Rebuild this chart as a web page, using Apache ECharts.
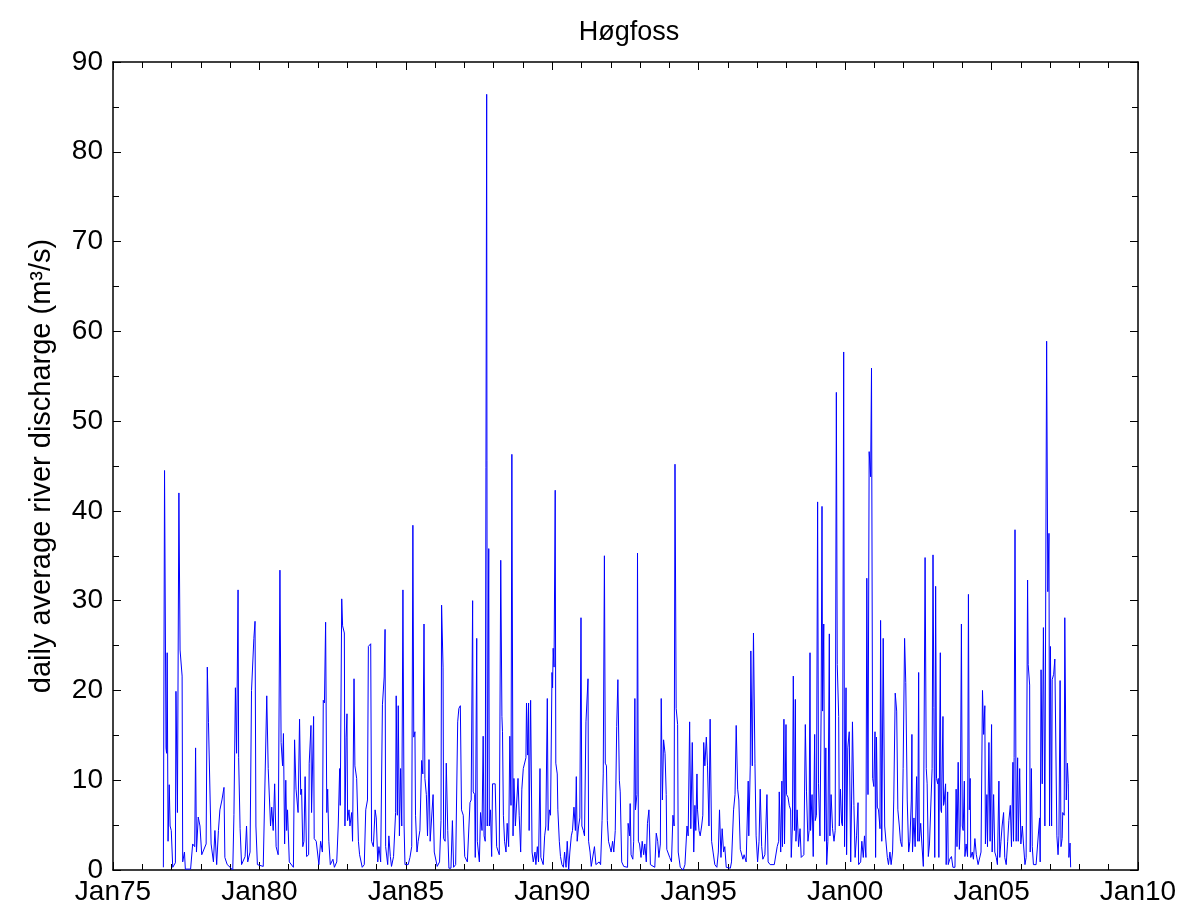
<!DOCTYPE html>
<html>
<head>
<meta charset="utf-8">
<title>Høgfoss</title>
<script src="https://cdn.jsdelivr.net/npm/echarts@6/dist/echarts.min.js"></script>
<style>
html, body { margin: 0; padding: 0; background: #fff; }
#chart { width: 1184px; height: 913px; }
</style>
</head>
<body>
<div id="chart"></div>
<script>
// dates as decimal years, one row per calendar year
let dates = [
  1976.72, 1976.76, 1976.81, 1976.83, 1976.85, 1976.88, 1976.92, 1976.95, 1976.99,
  1977.04, 1977.13, 1977.15, 1977.20, 1977.25, 1977.29, 1977.36, 1977.38, 1977.44, 1977.47, 1977.65, 1977.72, 1977.79, 1977.82, 1977.85, 1977.91, 1977.97,
  1978.03, 1978.08, 1978.18, 1978.22, 1978.26, 1978.32, 1978.35, 1978.43, 1978.48, 1978.54, 1978.60, 1978.65, 1978.72, 1978.79, 1978.82, 1978.90,
  1979.00, 1979.09, 1979.13, 1979.18, 1979.22, 1979.27, 1979.29, 1979.34, 1979.39, 1979.51, 1979.56, 1979.60, 1979.68, 1979.73, 1979.81, 1979.85, 1979.88, 1979.93,
  1980.13, 1980.19, 1980.25, 1980.30, 1980.38, 1980.42, 1980.47, 1980.52, 1980.57, 1980.64, 1980.70, 1980.74, 1980.79, 1980.82, 1980.86, 1980.90, 1980.93, 1980.96,
  1981.02, 1981.16, 1981.20, 1981.25, 1981.32, 1981.37, 1981.41, 1981.44, 1981.48, 1981.52, 1981.56, 1981.61, 1981.68, 1981.70, 1981.76, 1981.78, 1981.85, 1981.87, 1981.94,
  1982.03, 1982.09, 1982.15, 1982.18, 1982.22, 1982.26, 1982.30, 1982.33, 1982.37, 1982.42, 1982.51, 1982.56, 1982.64, 1982.69, 1982.74, 1982.76, 1982.81, 1982.84, 1982.90, 1982.92, 1982.96, 1982.99,
  1983.01, 1983.06, 1983.09, 1983.15, 1983.18, 1983.23, 1983.26, 1983.32, 1983.38, 1983.42, 1983.51, 1983.58, 1983.63, 1983.69, 1983.72, 1983.80, 1983.83, 1983.89, 1983.95, 1983.99,
  1984.04, 1984.08, 1984.14, 1984.20, 1984.26, 1984.29, 1984.31, 1984.38, 1984.42, 1984.47, 1984.51, 1984.58, 1984.65, 1984.67, 1984.71, 1984.74, 1984.78, 1984.82, 1984.86, 1984.90, 1984.94, 1984.97,
  1985.08, 1985.14, 1985.20, 1985.24, 1985.27, 1985.31, 1985.33, 1985.38, 1985.42, 1985.48, 1985.54, 1985.58, 1985.62, 1985.65, 1985.70, 1985.74, 1985.79, 1985.83, 1985.88, 1985.93, 1985.97,
  1986.07, 1986.15, 1986.20, 1986.22, 1986.27, 1986.29, 1986.34, 1986.38, 1986.43, 1986.47, 1986.54, 1986.59, 1986.63, 1986.70, 1986.77, 1986.81, 1986.86, 1986.90, 1986.96,
  1987.01, 1987.10, 1987.14, 1987.19, 1987.23, 1987.28, 1987.30, 1987.35, 1987.37, 1987.42, 1987.44, 1987.51, 1987.55, 1987.60, 1987.64, 1987.67, 1987.71, 1987.76, 1987.78, 1987.83, 1987.85, 1987.89, 1987.93, 1987.96,
  1988.05, 1988.10, 1988.19, 1988.24, 1988.28, 1988.30, 1988.33, 1988.37, 1988.42, 1988.46, 1988.51, 1988.55, 1988.59, 1988.62, 1988.66, 1988.69, 1988.74, 1988.78, 1988.83, 1988.87, 1988.92, 1988.96,
  1989.01, 1989.07, 1989.10, 1989.12, 1989.16, 1989.19, 1989.21, 1989.26, 1989.31, 1989.35, 1989.41, 1989.44, 1989.49, 1989.53, 1989.58, 1989.61, 1989.69, 1989.74, 1989.78, 1989.83, 1989.86, 1989.90, 1989.94, 1989.99,
  1990.01, 1990.03, 1990.06, 1990.10, 1990.12, 1990.17, 1990.19, 1990.24, 1990.28, 1990.33, 1990.38, 1990.42, 1990.47, 1990.51, 1990.56, 1990.60, 1990.65, 1990.69, 1990.74, 1990.79, 1990.82, 1990.85, 1990.90, 1990.94, 1990.98,
  1991.01, 1991.06, 1991.10, 1991.15, 1991.22, 1991.24, 1991.29, 1991.33, 1991.44, 1991.49, 1991.60, 1991.65, 1991.70, 1991.74, 1991.78, 1991.81, 1991.85, 1991.88, 1991.92,
  1992.01, 1992.06, 1992.10, 1992.15, 1992.20, 1992.24, 1992.29, 1992.32, 1992.37, 1992.44, 1992.57, 1992.59, 1992.64, 1992.66, 1992.69, 1992.75, 1992.78, 1992.82, 1992.84, 1992.89, 1992.91, 1992.94, 1992.98,
  1993.03, 1993.07, 1993.12, 1993.16, 1993.21, 1993.25, 1993.30, 1993.35, 1993.50, 1993.55, 1993.60, 1993.64, 1993.69, 1993.72, 1993.76, 1993.80, 1993.85, 1993.89, 1993.91,
  1994.01, 1994.07, 1994.12, 1994.16, 1994.19, 1994.23, 1994.28, 1994.30, 1994.37, 1994.47, 1994.53, 1994.60, 1994.64, 1994.69, 1994.73, 1994.78, 1994.83, 1994.87, 1994.90, 1994.94, 1994.96,
  1995.01, 1995.05, 1995.10, 1995.14, 1995.17, 1995.21, 1995.26, 1995.30, 1995.35, 1995.39, 1995.44, 1995.49, 1995.55, 1995.62, 1995.67, 1995.71, 1995.76, 1995.80, 1995.85, 1995.89, 1995.94,
  1996.08, 1996.12, 1996.19, 1996.24, 1996.28, 1996.33, 1996.37, 1996.42, 1996.51, 1996.55, 1996.62, 1996.69, 1996.71, 1996.76, 1996.78, 1996.83, 1996.87, 1996.92, 1996.96,
  1997.01, 1997.06, 1997.10, 1997.15, 1997.19, 1997.26, 1997.33, 1997.37, 1997.44, 1997.49, 1997.58, 1997.68, 1997.73, 1997.75, 1997.80, 1997.84, 1997.86, 1997.91, 1997.93, 1997.98,
  1998.00, 1998.05, 1998.09, 1998.14, 1998.16, 1998.20, 1998.23, 1998.27, 1998.30, 1998.32, 1998.36, 1998.41, 1998.46, 1998.50, 1998.59, 1998.64, 1998.68, 1998.73, 1998.77, 1998.80, 1998.82, 1998.87, 1998.91, 1998.96, 1998.98,
  1999.02, 1999.06, 1999.09, 1999.14, 1999.18, 1999.21, 1999.23, 1999.27, 1999.30, 1999.34, 1999.37, 1999.41, 1999.46, 1999.48, 1999.52, 1999.57, 1999.62, 1999.66, 1999.70, 1999.73, 1999.78, 1999.80, 1999.84, 1999.88, 1999.91, 1999.95, 1999.98,
  2000.03, 2000.05, 2000.09, 2000.14, 2000.19, 2000.22, 2000.25, 2000.30, 2000.34, 2000.39, 2000.44, 2000.46, 2000.53, 2000.57, 2000.62, 2000.66, 2000.71, 2000.74, 2000.78, 2000.82, 2000.87, 2000.90, 2000.94, 2000.98,
  2001.02, 2001.04, 2001.07, 2001.10, 2001.14, 2001.19, 2001.21, 2001.25, 2001.30, 2001.35, 2001.39, 2001.44, 2001.48, 2001.53, 2001.57, 2001.62, 2001.66, 2001.71, 2001.76, 2001.80, 2001.85, 2001.89, 2001.94, 2001.98,
  2002.03, 2002.07, 2002.12, 2002.17, 2002.21, 2002.26, 2002.28, 2002.30, 2002.35, 2002.39, 2002.44, 2002.48, 2002.51, 2002.53, 2002.58, 2002.62, 2002.67, 2002.73, 2002.77, 2002.80, 2002.84, 2002.88, 2002.93, 2002.97,
  2003.00, 2003.03, 2003.06, 2003.09, 2003.12, 2003.16, 2003.18, 2003.20, 2003.25, 2003.27, 2003.29, 2003.34, 2003.36, 2003.38, 2003.43, 2003.45, 2003.50, 2003.52, 2003.57, 2003.63, 2003.68, 2003.75, 2003.79, 2003.82, 2003.86, 2003.90, 2003.93, 2003.97,
  2004.00, 2004.03, 2004.07, 2004.09, 2004.13, 2004.18, 2004.21, 2004.24, 2004.27, 2004.29, 2004.34, 2004.38, 2004.43, 2004.48, 2004.54, 2004.59, 2004.64, 2004.69, 2004.73, 2004.77, 2004.79, 2004.84, 2004.86, 2004.91, 2004.95,
  2005.00, 2005.02, 2005.07, 2005.11, 2005.16, 2005.20, 2005.25, 2005.28, 2005.32, 2005.36, 2005.41, 2005.45, 2005.50, 2005.55, 2005.59, 2005.64, 2005.68, 2005.73, 2005.75, 2005.77, 2005.80, 2005.84, 2005.89, 2005.91, 2005.96,
  2006.00, 2006.05, 2006.09, 2006.14, 2006.18, 2006.23, 2006.25, 2006.30, 2006.32, 2006.36, 2006.39, 2006.43, 2006.52, 2006.57, 2006.64, 2006.66, 2006.69, 2006.73, 2006.77, 2006.82, 2006.88, 2006.92, 2006.96, 2006.98,
  2007.01, 2007.05, 2007.07, 2007.12, 2007.16, 2007.18, 2007.23, 2007.27, 2007.30, 2007.34, 2007.37, 2007.41, 2007.43, 2007.48, 2007.50, 2007.55, 2007.59, 2007.62, 2007.64, 2007.68, 2007.70
]

// daily average discharge, m3/s (same rows as dates)
let discharge = [
  0.3, 44.5, 13.6, 13.0, 24.2, 3.2, 9.5, 4.9, 4.4,
  0.3, 0.8, 19.9, 6.4, 42.0, 24.5, 21.6, 0.9, 2.0, 0.1, 0.1, 2.9, 2.6, 13.6, 2.0, 5.9, 4.9,
  1.7, 1.5, 2.9, 22.6, 16.4, 16.2, 2.9, 0.9, 4.4, 0.6, 4.4, 6.7, 7.8, 9.2, 1.4, 0.6,
  0.3, 0.0, 6.2, 20.3, 13.0, 31.2, 12.5, 4.6, 0.6, 1.5, 4.9, 0.9, 2.0, 20.0, 25.8, 27.7, 4.9, 0.6,
  0.4, 0.6, 19.4, 11.3, 4.9, 7.0, 4.4, 9.6, 2.6, 1.7, 33.4, 14.2, 11.6, 15.2, 2.9, 10.0, 4.4, 6.7,
  0.9, 0.3, 14.5, 9.0, 6.4, 16.8, 8.4, 9.0, 2.6, 3.2, 10.4, 1.5, 1.7, 11.9, 16.1, 6.4, 17.1, 3.5, 3.2,
  0.6, 3.2, 2.0, 18.9, 18.6, 27.6, 6.4, 9.0, 3.2, 0.6, 1.2, 0.3, 0.9, 4.9, 11.3, 7.2, 30.2, 27.2, 26.4, 4.9, 14.8, 17.4,
  5.5, 6.7, 4.9, 6.4, 3.2, 21.3, 11.6, 10.2, 3.2, 1.7, 0.3, 0.6, 6.7, 7.8, 24.9, 25.2, 3.2, 2.6, 6.7, 5.8,
  0.9, 2.6, 0.9, 18.4, 21.5, 26.8, 2.6, 0.6, 3.8, 1.5, 0.4, 1.5, 6.4, 19.4, 6.1, 18.3, 3.8, 11.3, 4.9, 31.2, 4.9, 0.6,
  0.6, 1.4, 2.6, 38.4, 14.8, 15.4, 6.1, 2.0, 3.2, 4.4, 12.2, 10.7, 27.4, 10.2, 8.4, 3.8, 12.3, 3.2, 3.2, 8.4, 2.0,
  0.4, 0.9, 5.5, 29.5, 22.6, 3.5, 3.2, 11.9, 4.4, 0.2, 0.2, 5.5, 0.3, 0.6, 16.5, 18.0, 18.3, 6.7, 6.1,
  1.5, 0.9, 0.9, 7.5, 7.8, 30.0, 8.7, 8.4, 1.4, 25.8, 3.2, 0.9, 6.4, 4.4, 14.9, 3.8, 3.2, 86.4, 4.9, 35.8, 4.9, 6.7, 1.5, 9.6,
  9.6, 2.6, 1.7, 34.5, 17.1, 15.4, 6.1, 3.2, 2.0, 5.2, 2.6, 14.9, 7.2, 46.3, 3.8, 10.2, 4.9, 4.9, 10.2, 6.1, 2.0, 9.0,
  11.3, 11.3, 12.5, 18.6, 12.8, 18.6, 4.4, 18.9, 2.0, 0.9, 2.0, 0.6, 2.6, 0.9, 11.3, 1.4, 0.6, 3.8, 4.9, 19.1, 4.4, 6.7, 6.1, 22.0,
  20.3, 24.7, 22.6, 42.3, 11.9, 10.7, 6.7, 3.2, 1.5, 0.6, 0.3, 2.0, 0.3, 3.2, 0.0, 2.0, 3.8, 4.4, 7.0, 4.4, 10.4, 3.2, 4.9, 5.8, 28.1,
  4.9, 4.4, 3.8, 16.5, 21.3, 3.2, 2.0, 0.4, 2.6, 0.6, 0.9, 0.6, 5.5, 10.7, 35.0, 11.9, 11.6, 5.5, 3.2,
  2.0, 3.2, 2.0, 4.4, 16.0, 21.2, 10.0, 8.7, 0.9, 0.4, 0.3, 5.2, 3.8, 7.4, 1.7, 1.2, 3.2, 19.1, 6.7, 8.4, 35.3, 3.2, 2.9,
  1.4, 3.2, 1.7, 2.9, 0.9, 5.2, 6.7, 0.6, 0.3, 4.1, 3.2, 1.4, 2.9, 19.1, 7.8, 14.5, 13.0, 8.4, 2.3,
  1.4, 0.9, 6.1, 4.9, 45.2, 18.0, 16.2, 2.0, 0.3, 0.0, 0.6, 4.9, 3.8, 16.5, 4.6, 14.2, 2.0, 7.2, 4.4, 10.7, 6.7,
  4.4, 3.8, 4.9, 6.1, 14.2, 11.6, 14.8, 11.6, 4.9, 16.8, 3.2, 2.0, 0.6, 0.3, 2.0, 6.7, 1.4, 4.6, 2.0, 2.6, 0.3,
  0.2, 0.9, 6.7, 8.4, 16.1, 9.0, 7.8, 2.3, 1.2, 1.7, 0.9, 9.9, 3.8, 11.6, 24.4, 11.6, 26.4, 11.9, 3.8,
  0.9, 3.2, 9.0, 2.6, 1.2, 1.7, 8.4, 0.9, 0.6, 0.6, 0.6, 2.6, 3.2, 8.7, 2.0, 9.9, 2.6, 16.8, 2.9, 16.2,
  8.4, 8.1, 7.2, 6.7, 1.4, 4.9, 21.6, 4.4, 19.0, 3.2, 6.7, 2.6, 4.6, 1.4, 1.7, 16.2, 8.7, 3.2, 4.4, 24.2, 4.4, 8.4, 1.5, 15.1, 5.5,
  6.1, 41.0, 9.6, 3.8, 17.7, 40.5, 17.7, 27.4, 3.2, 13.6, 0.6, 3.2, 26.3, 3.8, 8.4, 4.6, 3.2, 4.4, 53.2, 22.9, 17.1, 4.9, 9.0, 5.2, 4.9, 57.7, 2.6,
  20.3, 1.7, 13.6, 15.4, 0.9, 7.8, 16.5, 7.2, 1.4, 3.8, 7.5, 0.6, 0.9, 3.2, 1.4, 3.8, 1.4, 32.5, 8.4, 46.6, 43.8, 55.9, 10.2, 9.3,
  15.4, 1.4, 14.8, 7.0, 6.7, 4.6, 27.8, 3.2, 25.8, 4.9, 4.9, 1.4, 0.6, 2.0, 0.6, 2.0, 7.8, 19.7, 17.7, 6.7, 4.9, 3.2, 2.6, 11.3,
  25.8, 20.9, 7.8, 2.0, 3.2, 7.8, 15.1, 2.0, 5.8, 2.6, 10.4, 3.2, 22.0, 3.2, 5.2, 2.9, 0.4, 34.8, 11.3, 9.6, 1.5, 2.9, 2.9, 11.3,
  35.1, 18.1, 1.4, 31.6, 10.2, 9.6, 10.2, 1.4, 24.2, 6.7, 6.4, 17.1, 7.2, 7.5, 9.6, 0.6, 8.7, 0.6, 1.2, 1.5, 0.3, 0.3, 9.0, 2.6, 12.0, 2.3, 4.9, 27.4,
  4.9, 4.4, 9.9, 1.5, 2.9, 1.5, 30.7, 6.7, 10.2, 1.4, 2.0, 1.2, 3.5, 1.7, 0.6, 0.6, 2.0, 20.0, 15.1, 18.3, 2.9, 8.4, 2.6, 14.2, 3.2,
  16.2, 2.0, 8.4, 2.0, 1.4, 0.6, 9.9, 1.4, 3.2, 4.9, 6.4, 1.4, 0.6, 3.2, 5.5, 7.2, 2.6, 12.0, 3.2, 12.5, 37.9, 3.2, 12.5, 3.2, 11.3,
  2.9, 4.9, 2.9, 0.6, 1.4, 32.3, 22.9, 20.6, 2.0, 11.3, 2.6, 0.6, 0.6, 0.6, 5.8, 0.9, 22.3, 9.6, 27.0, 4.9, 58.9, 31.0, 37.5, 4.9,
  24.9, 4.9, 21.2, 21.8, 23.5, 23.5, 3.8, 1.7, 3.8, 21.1, 2.6, 3.5, 6.4, 6.1, 28.1, 7.8, 11.9, 9.6, 1.4, 3.0, 0.3
]

let xTickLabels = ['Jan75', 'Jan80', 'Jan85', 'Jan90', 'Jan95', 'Jan00', 'Jan05', 'Jan10']
let yTicks = [0, 10, 20, 30, 40, 50, 60, 70, 80, 90]

let font = 'Liberation Sans, Arial, sans-serif'
let xMin = 1975
let xMax = 2010
let xStep = 5

let frameX = {
  type: 'value',
  min: xMin,
  max: xMax,
  interval: xStep,
  axisLine: { show: true, onZero: false, lineStyle: { color: '#000', width: 1.5 } },
  axisTick: { show: true, inside: true, length: 8, lineStyle: { color: '#000', width: 1 } },
  minorTick: { show: true, splitNumber: 5, length: 6, lineStyle: { color: '#000', width: 1 } },
  splitLine: { show: false },
  minorSplitLine: { show: false }
}
let frameY = {
  type: 'value',
  min: yTicks[0],
  max: yTicks[yTicks.length - 1],
  interval: yTicks[1] - yTicks[0],
  axisLine: { show: true, onZero: false, lineStyle: { color: '#000', width: 1.5 } },
  axisTick: { show: true, inside: true, length: 8, lineStyle: { color: '#000', width: 1 } },
  minorTick: { show: true, splitNumber: 2, length: 6, lineStyle: { color: '#000', width: 1 } },
  splitLine: { show: false },
  minorSplitLine: { show: false }
}

let option = {
  animation: false,
  backgroundColor: '#fff',
  title: {
    text: 'Høgfoss',
    left: 624,
    top: 14,
    textAlign: 'center',
    textStyle: { fontFamily: font, fontSize: 27, fontWeight: 'normal', color: '#000' }
  },
  grid: { left: 113, right: 46, top: 62, bottom: 43, containLabel: false, outerBoundsMode: 'none' },
  xAxis: [
    Object.assign({}, frameX, {
      position: 'bottom',
      axisLabel: {
        show: true,
        margin: 8,
        color: '#000',
        fontFamily: font,
        fontSize: 28,
        formatter: (v) => xTickLabels[Math.round((v - xMin) / xStep)]
      }
    }),
    Object.assign({}, frameX, { position: 'top', axisLabel: { show: false } })
  ],
  yAxis: [
    Object.assign({}, frameY, {
      position: 'left',
      name: 'daily average river discharge (m³/s)',
      nameLocation: 'middle',
      nameRotate: 90,
      nameGap: 57,
      nameTextStyle: { fontFamily: font, fontSize: 29, color: '#000' },
      axisLabel: { show: true, margin: 10, color: '#000', fontFamily: font, fontSize: 28 }
    }),
    Object.assign({}, frameY, { position: 'right', axisLabel: { show: false } })
  ],
  series: [{
    type: 'line',
    xAxisIndex: 0,
    yAxisIndex: 0,
    showSymbol: false,
    symbol: 'none',
    lineStyle: { color: '#0000ff', width: 1 },
    data: dates.map((d, i) => [d, discharge[i]])
  }]
}

let myChart = echarts.init(document.getElementById('chart'), null, { renderer: 'canvas' })
myChart.setOption(option)
</script>
</body>
</html>
